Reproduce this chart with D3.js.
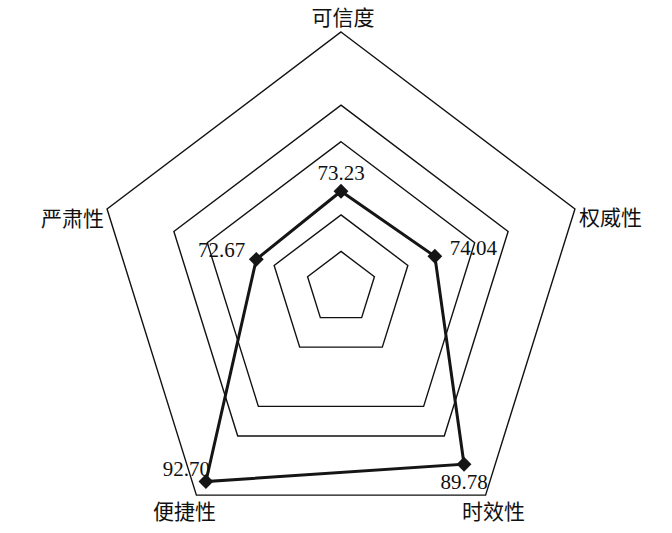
<!DOCTYPE html>
<html>
<head>
<meta charset="utf-8">
<script src="https://cdn.jsdelivr.net/npm/d3@7"></script>
<style>
  html, body { margin: 0; padding: 0; background: #fff; }
  svg { display: block; }
</style>
</head>
<body>
<svg id="chart" width="672" height="533"></svg>
<script>
// ---- data ----
const categories = ["可信度", "权威性", "时效性", "便捷性", "严肃性"];
const values = [73.23, 74.04, 89.78, 92.70, 72.67];
const valueLabels = ["73.23", "74.04", "89.78", "92.70", "72.67"];
const axisDomain = [60, 95];
const gridLevels = [65, 70, 80, 85, 95];

// ---- layout ----
const W = 672, H = 533;
const cx = 341, cy = 288;
const rx = 246, ry = 256;

const svg = d3.select("#chart");
const r = d3.scaleLinear().domain(axisDomain).range([0, 1]);
const angle = d3.scaleLinear().domain([0, categories.length]).range([0, 2 * Math.PI]);

function pt(i, v) {
  const a = angle(i);
  const k = r(v);
  return [cx + k * rx * Math.sin(a), cy - k * ry * Math.cos(a)];
}

const line = d3.line().curve(d3.curveLinearClosed);

// grid pentagons
svg.append("g")
  .selectAll("path")
  .data(gridLevels)
  .join("path")
  .attr("d", lv => line(categories.map((c, i) => pt(i, lv))))
  .attr("fill", "none")
  .attr("stroke", "#111")
  .attr("stroke-width", 1.4);

// data polygon
svg.append("path")
  .attr("d", line(values.map((v, i) => pt(i, v))))
  .attr("fill", "none")
  .attr("stroke", "#151515")
  .attr("stroke-width", 3)
  .attr("stroke-linejoin", "miter");

// markers (diamonds)
svg.append("g")
  .selectAll("path")
  .data(values)
  .join("path")
  .attr("d", d3.symbol().type(d3.symbolSquare).size(110))
  .attr("transform", (v, i) => { const p = pt(i, v); return `translate(${p[0]},${p[1]}) rotate(45)`; })
  .attr("fill", "#151515");

// value labels
const valOffsets = [
  { anchor: "middle", dx: 0, dy: -11 },
  { anchor: "start", dx: 15, dy: -1 },
  { anchor: "middle", dx: 0, dy: 25 },
  { anchor: "end", dx: 4, dy: -5 },
  { anchor: "end", dx: -11, dy: -2 }
];
svg.append("g")
  .selectAll("text")
  .data(values)
  .join("text")
  .attr("x", (v, i) => pt(i, v)[0] + valOffsets[i].dx)
  .attr("y", (v, i) => pt(i, v)[1] + valOffsets[i].dy)
  .attr("text-anchor", (v, i) => valOffsets[i].anchor)
  .attr("font-family", "'Liberation Serif', 'Times New Roman', serif")
  .attr("font-size", 21)
  .attr("fill", "#111")
  .text((v, i) => valueLabels[i]);

// category labels
const catOffsets = [
  { anchor: "middle", dx: 2, dy: -7 },
  { anchor: "start", dx: 4, dy: 16 },
  { anchor: "middle", dx: 8, dy: 24 },
  { anchor: "middle", dx: -12, dy: 24 },
  { anchor: "end", dx: -3, dy: 17 }
];
svg.append("g")
  .selectAll("text")
  .data(categories)
  .join("text")
  .attr("x", (c, i) => pt(i, axisDomain[1])[0] + catOffsets[i].dx)
  .attr("y", (c, i) => pt(i, axisDomain[1])[1] + catOffsets[i].dy)
  .attr("text-anchor", (c, i) => catOffsets[i].anchor)
  .attr("font-family", "'Noto Sans CJK SC', sans-serif")
  .attr("font-size", 21)
  .attr("fill", "#111")
  .text(c => c);
</script>
</body>
</html>
